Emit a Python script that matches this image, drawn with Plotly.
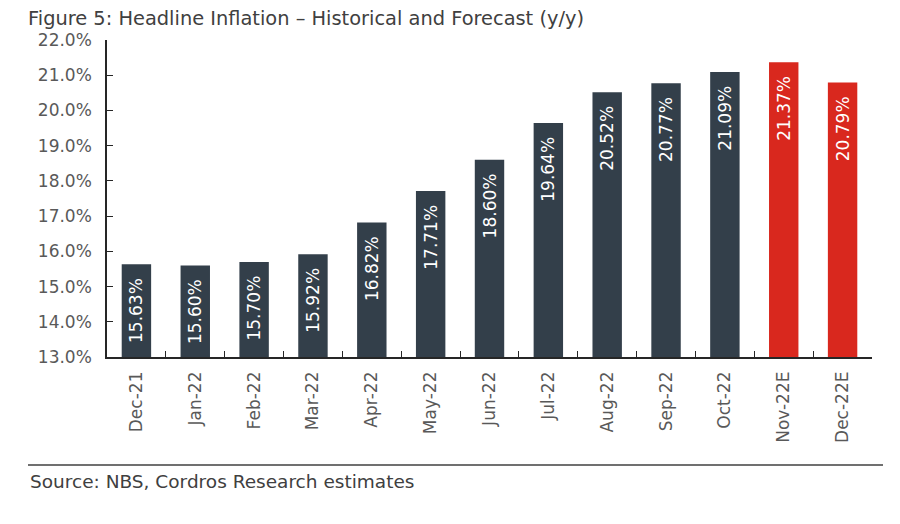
import plotly.graph_objects as go

##----------------------------------------------------------------------------##
#Data
months = ['Dec-21', 'Jan-22', 'Feb-22', 'Mar-22', 'Apr-22', 'May-22', 'Jun-22',
          'Jul-22', 'Aug-22', 'Sep-22', 'Oct-22', 'Nov-22E', 'Dec-22E']
inflation = [15.63, 15.60, 15.70, 15.92, 16.82, 17.71, 18.60,
             19.64, 20.52, 20.77, 21.09, 21.37, 20.79]
is_forecast = [False] * 11 + [True] * 2
##----------------------------------------------------------------------------##

DARK = '#333f4a'
RED = '#d9281e'
GREY = '#595959'
FONT = 'DejaVu Sans'

bar_colors = [RED if f else DARK for f in is_forecast]

#trailing no-break spaces push the label a little down from the bar top
fig = go.Figure(go.Bar(
    x=months, y=inflation,
    marker=dict(color=bar_colors, line=dict(width=0)),
    text=inflation, texttemplate='%{y:.2f}%\u00a0\u00a0',
    textposition='inside', insidetextanchor='end', textangle=-90,
    insidetextfont=dict(color='white', size=17, family=FONT),
    width=0.5,
))

#page body adds 8px offset, so plot area is set 8px up/left
fig.update_layout(
    width=900, height=524,
    margin=dict(l=99, r=36, t=32, b=175),
    plot_bgcolor='white', paper_bgcolor='white',
    font=dict(family=FONT, color=GREY, size=17),
    showlegend=False,
    title=dict(text='Figure 5: Headline Inflation \u2013 Historical and Forecast (y/y)',
               xref='container', yref='container', x=20/900, xanchor='left',
               y=1 - 3/524, yanchor='top', pad=dict(t=0, b=0, l=0, r=0),
               font=dict(size=19.4, color='#404040', family=FONT)),
)

fig.update_yaxes(range=[13, 22], dtick=1, tickformat='.1f', ticksuffix='%',
                 showgrid=False, zeroline=False,
                 showline=True, linecolor='#262626', linewidth=1.5,
                 ticks='inside', ticklen=6, tickcolor='#262626',
                 ticklabelstandoff=10,
                 tickfont=dict(size=17, color=GREY))
fig.update_xaxes(showgrid=False, showline=True, linecolor='#262626', linewidth=1.5,
                 ticks='inside', ticklen=6, tickcolor='#262626', tickson='boundaries',
                 tickangle=-90, ticklabelstandoff=6,
                 tickfont=dict(size=17, color=GREY))

#Rule and source note below the chart
fig.add_shape(type='line', xref='paper', yref='paper',
              x0=(28 - 107) / 765, x1=(883 - 107) / 765,
              y0=(357 - 465) / 317, y1=(357 - 465) / 317,
              line=dict(color='#404040', width=1.5))
fig.add_annotation(text='Source: NBS, Cordros Research estimates',
                   xref='paper', yref='paper', x=(28 - 107) / 765, xanchor='left',
                   y=(357 - 481) / 317, yanchor='middle', showarrow=False,
                   font=dict(size=18.5, color='#404040', family=FONT))

fig.write_html('out.html')
